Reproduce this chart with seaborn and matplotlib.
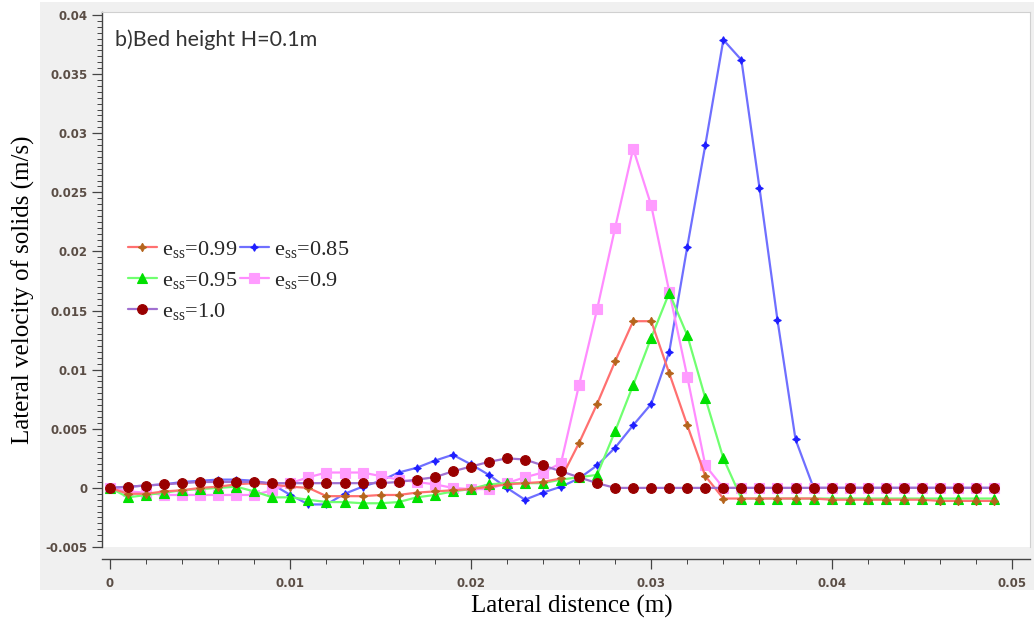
import numpy as np
import matplotlib
matplotlib.use("Agg")
import matplotlib.pyplot as plt
from matplotlib.ticker import MultipleLocator, FuncFormatter
from matplotlib.patches import Rectangle
import seaborn as sns

# ---------------- data ----------------
x_dist = np.round(np.arange(0, 0.050, 0.001), 3)

v_099 = [0, -0.0005, -0.0005, -0.0003, -0.0002, 0, 0.0001, 0.0003, 0.0004, 0.0003,
         0.0001, 0, -0.0007, -0.0007, -0.0007, -0.0006, -0.0006, -0.0004, -0.0003, -0.0002,
         -0.0001, 0.0001, 0.0003, 0.0004, 0.0005, 0.0008, 0.0038, 0.0071, 0.0107, 0.0141,
         0.0141, 0.0097, 0.0053, 0.0010, -0.0009, -0.0009, -0.0009, -0.0009, -0.0009, -0.0009,
         -0.0010, -0.0010, -0.0010, -0.0010, -0.0010, -0.0010, -0.0011, -0.0011, -0.0011, -0.0011]

v_085 = [0, 0.0001, 0.0002, 0.0003, 0.0005, 0.0006, 0.0007, 0.0007, 0.0006, 0.0003,
         -0.0006, -0.0014, -0.0014, -0.0005, 0.0001, 0.0006, 0.0013, 0.0017, 0.0023, 0.0028,
         0.0020, 0.0011, 0, -0.0010, -0.0004, 0.0001, 0.0008, 0.0019, 0.0034, 0.0053,
         0.0071, 0.0115, 0.0204, 0.0290, 0.0379, 0.0362, 0.0254, 0.0142, 0.0041, 0,
         0, 0, 0, 0, 0, 0, 0, 0, 0, 0]

v_095 = [0, -0.0008, -0.0006, -0.0004, -0.0002, -0.0001, 0, 0.0001, -0.0003, -0.0008,
         -0.0008, -0.0010, -0.0012, -0.0012, -0.0013, -0.0013, -0.0012, -0.0008, -0.0006, -0.0003,
         -0.0001, 0.0003, 0.0004, 0.0004, 0.0004, 0.0007, 0.0009, 0.0011, 0.0048, 0.0087,
         0.0127, 0.0165, 0.0129, 0.0076, 0.0025, -0.0009, -0.0009, -0.0009, -0.0009, -0.0009,
         -0.0009, -0.0009, -0.0009, -0.0009, -0.0009, -0.0009, -0.0009, -0.0009, -0.0009, -0.0009]

v_090 = [0, -0.0003, -0.0004, -0.0006, -0.0006, -0.0006, -0.0006, -0.0006, -0.0006, -0.0002,
         0.0004, 0.0009, 0.0013, 0.0013, 0.0013, 0.0010, 0.0007, 0.0005, 0.0003, 0,
         -0.0001, -0.0001, 0.0004, 0.0009, 0.0013, 0.0021, 0.0087, 0.0151, 0.0220, 0.0287,
         0.0239, 0.0166, 0.0094, 0.0019, 0, 0, 0, 0, 0, 0,
         0, 0, 0, 0, 0, 0, 0, 0, 0, 0]

v_100 = [0, 0.0001, 0.0002, 0.0003, 0.0004, 0.0005, 0.0005, 0.0005, 0.0005, 0.0004,
         0.0004, 0.0004, 0.0004, 0.0004, 0.0004, 0.0004, 0.0005, 0.0007, 0.0009, 0.0014,
         0.0018, 0.0022, 0.0025, 0.0024, 0.0019, 0.0014, 0.0009, 0.0004, 0, 0,
         0, 0, 0, 0, 0, 0, 0, 0, 0, 0,
         0, 0, 0, 0, 0, 0, 0, 0, 0, 0]

series_labels = ["0.99", "0.85", "0.95", "0.9", "1.0"]
x_ticks = [0, 0.01, 0.02, 0.03, 0.04, 0.05]
y_ticks = [-0.005, 0, 0.005, 0.01, 0.015, 0.02, 0.025, 0.03, 0.035, 0.04]

# ---------------- figure ----------------
sns.set_theme(style="ticks")
plt.rcParams["font.family"] = ["DejaVu Sans"]
plt.rcParams["mathtext.fontset"] = "stix"

W, H = 1034, 627
fig = plt.figure(figsize=(W / 100, H / 100), dpi=100)
fig.patch.set_facecolor("white")
fig.patches.append(Rectangle((40 / W, (H - 590) / H), (W - 40) / W, (590 - 2) / H,
                             transform=fig.transFigure, facecolor="#f0f0f0",
                             edgecolor="none", zorder=-10))

ax_l, ax_r, ax_t, ax_b = 102, 1030, 12, 547
ax = fig.add_axes([ax_l / W, (H - ax_b) / H, (ax_r - ax_l) / W, (ax_b - ax_t) / H])
ax.set_facecolor("white")

styles = {
    "0.85": dict(color="#6f6fff", marker=(4, 1, 0), ms=5.5, mfc="#1f1fff", mec="#1f1fff"),
    "0.9":  dict(color="#ff8cff", marker="s", ms=7, mfc="#ff9cff", mec="#ff9cff"),
    "0.95": dict(color="#70ff70", marker="^", ms=6.5, mfc="#00e000", mec="#00e000"),
    "0.99": dict(color="#ff7070", marker=(4, 1, 0), ms=6, mfc="#b5651d", mec="#b5651d"),
    "1.0":  dict(color="#a070d0", marker="o", ms=7, mfc="#990000", mec="#990000"),
}
values = {"0.99": v_099, "0.85": v_085, "0.95": v_095, "0.9": v_090, "1.0": v_100}

handles = {}
for key in ["0.85", "0.9", "0.95", "0.99", "1.0"]:
    st = styles[key]
    sns.lineplot(x=x_dist, y=values[key], ax=ax, color=st["color"], linewidth=1.6,
                 marker=st["marker"], markersize=st["ms"], markerfacecolor=st["mfc"],
                 markeredgecolor=st["mec"], markeredgewidth=0.8,
                 label=r"$\mathregular{e_{ss}}$=" + key)
    handles[key] = ax.get_lines()[-1]

ax.set_xlim((ax_l - 110) / 18040, (ax_r - 110) / 18040)
ax.set_ylim(-0.005, 0.04 + 3 / 59.1 * 0.005)

ax.spines["bottom"].set_position(("outward", 8.5))
for s in ["left", "bottom"]:
    ax.spines[s].set_color("#444444")
    ax.spines[s].set_linewidth(1.0)
for s in ["top", "right"]:
    ax.spines[s].set_color("#d0d0d0")
    ax.spines[s].set_linewidth(0.8)

ax.xaxis.set_major_locator(MultipleLocator(0.01))
ax.xaxis.set_minor_locator(MultipleLocator(0.002))
ax.yaxis.set_major_locator(MultipleLocator(0.005))
ax.yaxis.set_minor_locator(MultipleLocator(0.0005))
ax.set_xticks(x_ticks)
ax.set_yticks(y_ticks)

def fmt(v, pos):
    s = f"{v:.3f}".rstrip("0").rstrip(".")
    if s in ("-0", ""):
        s = "0"
    return s

ax.xaxis.set_major_formatter(FuncFormatter(fmt))
ax.yaxis.set_major_formatter(FuncFormatter(fmt))

tick_col = "#5a4d45"
ax.tick_params(axis="both", which="major", direction="out", length=7, width=0.9,
               color="#444444", labelsize=8.5, labelcolor=tick_col)
ax.tick_params(axis="both", which="minor", direction="out", length=3.5, width=0.7,
               color="#444444")
ax.tick_params(axis="x", pad=6)
for lab in ax.get_xticklabels() + ax.get_yticklabels():
    lab.set_fontweight("bold")

ax.set_xlabel("Lateral distence (m)", family="Liberation Serif", fontsize=18, color="black")
ax.set_ylabel("Lateral velocity of solids (m/s)", family="Liberation Serif", fontsize=18,
              color="black")
ax.xaxis.set_label_coords((572 - ax_l) / (ax_r - ax_l), (ax_b - 595) / (ax_b - ax_t))
ax.yaxis.set_label_coords((35 - ax_l) / (ax_r - ax_l), (ax_b - 290) / (ax_b - ax_t))

ax.text(115 / W, 1 - 40 / H, "b)Bed height H=0.1m", transform=fig.transFigure,
        family="Lato", fontsize=15.5, color="#333333", va="center", ha="left")

order = ["0.99", "0.95", "1.0", "0.85", "0.9"]
leg = ax.legend([handles[k] for k in order],
                [r"$\mathregular{e_{ss}}$=" + k for k in order],
                ncol=2, frameon=False, loc="upper left",
                bbox_to_anchor=(119 / W, 1 - 230 / H), bbox_transform=fig.transFigure,
                prop={"family": "Liberation Serif", "size": 16},
                handlelength=1.3, handletextpad=0.25, columnspacing=0.1,
                labelspacing=0.45, borderaxespad=0)

fig.savefig("out.png", dpi=100, facecolor=fig.get_facecolor())
